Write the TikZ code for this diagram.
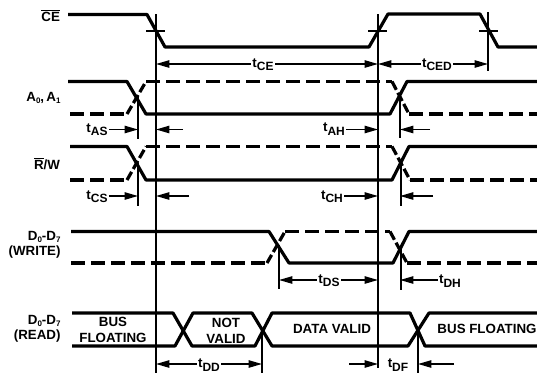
\documentclass[tikz,border=0pt]{standalone}
\usepackage{fontspec}
\setmainfont{Liberation Sans}
\usetikzlibrary{arrows.meta}

\newcommand{\tsub}[1]{t\raisebox{-2.5pt}{\fontsize{9}{9}\selectfont #1}}
\newcommand{\dsub}[1]{\raisebox{-1.5pt}{\fontsize{6}{6}\selectfont #1}}

\tikzset{every picture/.style={line width=0.75pt}}
\tikzset{
  signal/.style={line width=2.4pt,line join=round},
  floating/.style={signal,dash pattern=on 10.5pt off 4.5pt},
  floatedge/.style={signal,dash pattern=on 7pt off 2.5pt},
  timeline/.style={line width=1.5pt},
  dimline/.style={line width=1.1pt,-{Triangle[length=10pt,width=5.5pt]}},
  name text/.style={anchor=east,inner sep=0.75pt,font=\bfseries\fontsize{10}{11.5}\selectfont,align=right},
  bus text/.style={inner sep=0.75pt,font=\bfseries\fontsize{10}{11.5}\selectfont,align=center},
  time text/.style={inner sep=0.75pt,font=\bfseries\fontsize{10}{11}\selectfont}
}

\begin{document}
\begin{tikzpicture}[x=0.75pt,y=0.75pt,yscale=-1]
\useasboundingbox (0,0) rectangle (537,375);

%Named timing lines
\coordinate (lineA) at (156,14);
\coordinate (lineB) at (378,14);
\coordinate (lineC) at (488,12);
\coordinate (lineD) at (138,96);
\coordinate (lineE) at (400,96);
\coordinate (lineF) at (279,245);
\coordinate (lineG) at (262,329);
\coordinate (lineH) at (418,329);

%Chip enable
\draw [signal] (68,14.5) -- (147,14.5) -- (165,47) -- (369,47) -- (388,14) -- (480,14) -- (498,47) -- (537,47) ;
\draw [timeline] (146,31) -- (165,31) ;
\draw [timeline] (368,31) -- (387,31) ;
\draw [timeline] (479,31) -- (498,31) ;

%Address
\draw [signal] (68,81.5) -- (127,81.5) -- (146,114) -- (390,114) -- (407,81.5) -- (537,81.5) ;
\draw [floating] (70,114) -- (127,114) ;
\draw [floatedge] (127,114) -- (146,81.5) ;
\draw [floating] (146,81.5) -- (392,81.5) ;
\draw [floatedge] (392,81.5) -- (409,114) ;
\draw [floating] (409,114) -- (537,114) ;

%Read write
\draw [signal] (70,146.5) -- (127,146.5) -- (146,180) -- (392,180) -- (409,146.5) -- (537,146.5) ;
\draw [floating] (70,180) -- (127,180) ;
\draw [floatedge] (127,180) -- (146,146.5) ;
\draw [floating] (146,146.5) -- (392,146.5) ;
\draw [floatedge] (392,146.5) -- (410,180) ;
\draw [floating] (410,180) -- (537,180) ;

%Data write
\draw [signal] (71,231.5) -- (269,231.5) -- (289,263) -- (393,263) -- (409,231.5) -- (537,231.5) ;
\draw [floating] (71,263) -- (267,263) ;
\draw [floatedge] (267,263) -- (285,231.5) ;
\draw [floating] (285,231.5) -- (390,231.5) ;
\draw [floatedge] (390,231.5) -- (407,263) ;
\draw [floating] (407,263) -- (537,263) ;

%Data read
\draw [signal] (72,313) -- (173,313) -- (192,346) -- (255,346) -- (272,313) -- (410,313) -- (425,346) -- (537,346) ;
\draw [signal] (72,346) -- (175,346) -- (193,313) -- (252,313) -- (272,346) -- (408,346) -- (429,313) -- (537,313) ;

%Straight Lines
\draw [timeline] (lineA) -- (156,373) ;
\draw [timeline] (lineB) -- (378,368) ;
\draw [timeline] (lineC) -- (488,71) ;
\draw [timeline] (lineD) -- (138,139) ;
\draw [timeline] (138,163) -- (138,206) ;
\draw [timeline] (lineE) -- (400,138) ;
\draw [timeline] (400.5,163) -- (400.5,206) ;
\draw [timeline] (lineF) -- (279,289) ;
\draw [timeline] (401,245) -- (401,290) ;
\draw [timeline] (lineG) -- (262,373) ;
\draw [timeline] (lineH) -- (418,373) ;

% Text Node
\node (ceName) [name text] at (61.5,16) {$\overline{\mbox{\bfseries CE}}$};
\node (addrName) [name text] at (62,98) {A\dsub{0},\,A\dsub{1}};
\node (rwName) [name text] at (61.5,164) {$\overline{\mbox{\bfseries R}}$/W};
\node (writeName) [name text] at (62,245) {D\dsub{0}-D\dsub{7}\\(WRITE)};
\node (readName) [name text] at (62,329) {D\dsub{0}-D\dsub{7}\\(READ)};
% Text Node
\node (busLeft) [bus text] at (113,330) {BUS\\FLOATING};
\node (notValid) [bus text] at (226,331) {NOT\\VALID};
\node (dataValid) [bus text] at (332,329) {DATA VALID};
\node (busRight) [bus text] at (487,329) {BUS FLOATING};
% Text Node
\node (tCE) [time text] at (263,65) {\tsub{CE}};
\node (tCED) [time text] at (437,65) {\tsub{CED}};
\node (tAS) [time text] at (97,130) {\tsub{AS}};
\node (tAH) [time text] at (334,129) {\tsub{AH}};
\node (tCS) [time text] at (97,197) {\tsub{CS}};
\node (tCH) [time text] at (332,197) {\tsub{CH}};
\node (tDS) [time text] at (329,281) {\tsub{DS}};
\node (tDH) [time text] at (450,281) {\tsub{DH}};
\node (tDD) [time text] at (209,365) {\tsub{DD}};
\node (tDF) [time text] at (398,365) {\tsub{DF}};

%Free arrow ends
\coordinate (asEnd) at (183,129.5);
\coordinate (ahEnd) at (430,129.5);
\coordinate (csEnd) at (189,196);
\coordinate (chEnd) at (433,196);
\coordinate (dfStart) at (349,364);
\coordinate (dfEnd) at (454,364);

%Arrows
\draw [dimline] (tCE.west |- 0,64) -- (lineA |- 0,64) ;
\draw [dimline] (tCE.east |- 0,64) -- (lineB |- 0,64) ;
\draw [dimline] (tCED.west |- 0,64) -- (lineB |- 0,64) ;
\draw [dimline] (tCED.east |- 0,64) -- (lineC |- 0,64) ;
\draw [dimline] (tAS.east |- asEnd) -- (lineD |- asEnd) ;
\draw [dimline] (asEnd) -- (lineA |- asEnd) ;
\draw [dimline] (tAH.east |- ahEnd) -- (lineB |- ahEnd) ;
\draw [dimline] (ahEnd) -- (lineE |- ahEnd) ;
\draw [dimline] (tCS.east |- csEnd) -- (lineD |- csEnd) ;
\draw [dimline] (csEnd) -- (lineA |- csEnd) ;
\draw [dimline] (tCH.east |- chEnd) -- (lineB |- chEnd) ;
\draw [dimline] (chEnd) -- (lineE |- chEnd) ;
\draw [dimline] (tDS.west |- 0,280) -- (lineF |- 0,280) ;
\draw [dimline] (tDS.east |- 0,280) -- (lineB |- 0,280) ;
\draw [dimline] (tDH.west |- 0,280) -- (lineE |- 0,280) ;
\draw [dimline] (tDD.west |- dfEnd) -- (lineA |- dfEnd) ;
\draw [dimline] (tDD.east |- dfEnd) -- (lineG |- dfEnd) ;
\draw [dimline] (dfStart) -- (lineB |- dfStart) ;
\draw [dimline] (dfEnd) -- (lineH |- dfEnd) ;

\end{tikzpicture}
\end{document}
